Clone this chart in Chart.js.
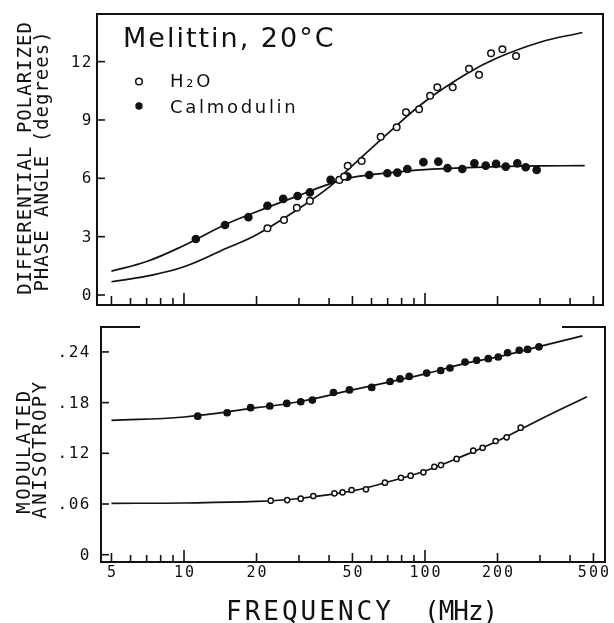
<!DOCTYPE html>
<html>
<head>
<meta charset="utf-8">
<script src="https://cdn.jsdelivr.net/npm/chart.js@4.4.0/dist/chart.umd.min.js"></script>
<style>
  html, body { margin: 0; padding: 0; background: #fff; }
  #wrap { position: relative; width: 614px; height: 623px; overflow: hidden; }
  canvas { position: absolute; left: 0; }
  #phase { top: 0; }
  #aniso { top: 320px; }
</style>
</head>
<body>
<div id="wrap">
  <canvas id="phase" width="614" height="320"></canvas>
  <canvas id="aniso" width="614" height="303"></canvas>
</div>
<script>
// ---- differential polarized phase angle (degrees) ----
var phaseH2oFreq = [22.2, 26.0, 29.4, 33.3, 44.1, 46.2, 47.8, 54.6, 65.5, 76.3, 83.4, 94.5, 105, 112.5, 130.3, 152.3, 167.6, 188, 209.5, 238.7];
var phaseH2o     = [3.43, 3.86, 4.49, 4.84, 5.92, 6.09, 6.65, 6.89, 8.14, 8.63, 9.40, 9.55, 10.25, 10.68, 10.68, 11.63, 11.32, 12.43, 12.64, 12.29];
var phaseCamFreq = [11.2, 14.8, 18.5, 22.2, 25.8, 29.6, 33.3, 40.6, 47.7, 58.7, 69.8, 76.8, 84.5, 98.5, 113.6, 124, 142.8, 160.3, 178.7, 197.2, 216.3, 241.7, 261.8, 290.7];
var phaseCam     = [2.88, 3.60, 4.00, 4.59, 4.94, 5.09, 5.28, 5.92, 6.09, 6.17, 6.26, 6.29, 6.48, 6.83, 6.86, 6.52, 6.48, 6.77, 6.65, 6.74, 6.60, 6.77, 6.57, 6.43];
// fitted curves
var phaseH2oFitFreq = [5, 7, 10, 15, 20, 30, 40, 50, 70, 100, 150, 200, 300, 450];
var phaseH2oFit     = [0.68, 0.97, 1.45, 2.4, 3.1, 4.45, 5.55, 6.65, 8.3, 9.95, 11.4, 12.2, 13.0, 13.5];
var phaseCamFitFreq = [5, 7, 10, 15, 20, 30, 40, 50, 70, 100, 150, 200, 300, 460];
var phaseCamFit     = [1.23, 1.72, 2.55, 3.65, 4.28, 5.12, 5.7, 6.05, 6.28, 6.45, 6.55, 6.6, 6.64, 6.65];

// ---- modulated anisotropy ----
var anisoH2oFreq = [22.9, 26.8, 30.5, 34.4, 42.1, 45.5, 49.6, 56.9, 68.2, 79.5, 87.2, 98.5, 109.3, 116.5, 135.3, 158.6, 173.4, 196.4, 218.2, 249.5];
var anisoH2o     = [0.0639, 0.0647, 0.0663, 0.0695, 0.0727, 0.0738, 0.0766, 0.0774, 0.0852, 0.0911, 0.0935, 0.0975, 0.1041, 0.1061, 0.1133, 0.1231, 0.1266, 0.1346, 0.1389, 0.1503];
var anisoCamFreq = [11.4, 15.1, 18.9, 22.7, 26.7, 30.5, 34.1, 41.7, 48.6, 60.1, 71.6, 78.8, 86.0, 101.6, 116.2, 127, 146.6, 163.8, 183.1, 201.4, 220.2, 246.1, 266.6, 297.1];
var anisoCam     = [0.164, 0.168, 0.174, 0.176, 0.179, 0.181, 0.183, 0.192, 0.195, 0.198, 0.205, 0.208, 0.211, 0.215, 0.218, 0.221, 0.228, 0.230, 0.232, 0.234, 0.239, 0.242, 0.243, 0.246];
var anisoH2oFitFreq = [5, 10, 20, 30, 50, 70, 100, 150, 200, 300, 470];
var anisoH2oFit     = [0.0608, 0.0612, 0.063, 0.0665, 0.0755, 0.086, 0.099, 0.119, 0.1345, 0.160, 0.187];
var anisoCamFitFreq = [5, 10, 20, 30, 50, 70, 100, 150, 200, 300, 450];
var anisoCamFit     = [0.159, 0.163, 0.174, 0.181, 0.195, 0.204, 0.214, 0.227, 0.234, 0.2465, 0.259];

// ---- axes ----
var freqTicks   = [5, 6, 7, 8, 9, 10, 20, 30, 40, 50, 60, 70, 80, 90, 100, 200, 300, 400, 500];
var freqLabels  = [5, 10, 20, 50, 100, 200, 500];
var decadeTicks = [10, 100];
var phaseTicks  = [0, 3, 6, 9, 12];
var phaseTickText = ['0', '3', '6', '9', '12'];
var anisoTicks  = [0, 0.06, 0.12, 0.18, 0.24];
var anisoTickText = ['0', '.06', '.12', '.18', '.24'];

var INK = '#111';
var MONO = '"DejaVu Sans Mono", monospace';
var SANS = '"DejaVu Sans", sans-serif';

function pts(xs, ys) {
  return xs.map(function (x, i) { return { x: x, y: ys[i] }; });
}
function fitSet(xs, ys) {
  return { data: pts(xs, ys), showLine: true, pointRadius: 0, borderColor: INK,
           borderWidth: 1.7, tension: 0.4, fill: false };
}
function markSet(xs, ys, filled, r) {
  return { data: pts(xs, ys), showLine: false, pointRadius: r, pointBorderWidth: 1.5,
           pointBackgroundColor: filled ? INK : '#fff', pointBorderColor: INK };
}

function txt(ctx, s, x, y, font, align, spacing, baseline) {
  ctx.save();
  ctx.font = font;
  ctx.letterSpacing = (spacing || 0) + 'px';
  ctx.textAlign = align || 'left';
  ctx.textBaseline = baseline || 'middle';
  ctx.fillStyle = INK;
  ctx.fillText(s, x, y);
  ctx.restore();
}
function vtxt(ctx, s, x, y, font, spacing) {
  ctx.save();
  ctx.translate(x, y);
  ctx.rotate(-Math.PI / 2);
  txt(ctx, s, 0, 0, font, 'center', spacing);
  ctx.restore();
}
function line(ctx, x1, y1, x2, y2) {
  ctx.beginPath(); ctx.moveTo(x1, y1); ctx.lineTo(x2, y2); ctx.stroke();
}

// inward ticks on the frequency axis and on the left axis
function drawTicks(chart, yVals, yText, labelRight) {
  var ctx = chart.ctx, a = chart.chartArea;
  var xs = chart.scales.x, ys = chart.scales.y;
  ctx.save();
  ctx.strokeStyle = INK; ctx.lineWidth = 1.6;
  freqTicks.forEach(function (f) {
    var x = xs.getPixelForValue(f);
    var len = decadeTicks.indexOf(f) >= 0 ? 12 : (freqLabels.indexOf(f) >= 0 ? 9 : 7);
    line(ctx, x, a.bottom, x, a.bottom - len);
  });
  yVals.forEach(function (v, i) {
    var y = ys.getPixelForValue(v);
    line(ctx, a.left, y, a.left + 8, y);
    txt(ctx, yText[i], labelRight, y + 1, '16px ' + MONO, 'right', 1.5);
  });
  ctx.restore();
}

var phaseDecor = {
  id: 'phaseDecor',
  afterDraw: function (chart) {
    var ctx = chart.ctx, a = chart.chartArea;
    ctx.save();
    ctx.strokeStyle = INK; ctx.lineWidth = 2;
    ctx.strokeRect(a.left, a.top, a.right - a.left, a.bottom - a.top);
    ctx.restore();
    drawTicks(chart, phaseTicks, phaseTickText, 93);

    vtxt(ctx, 'DIFFERENTIAL POLARIZED', 26, 158, '19px ' + MONO, 1);
    vtxt(ctx, 'PHASE ANGLE (degrees)', 43, 161, '19px ' + MONO, 1);

    txt(ctx, 'Melittin, 20°C', 123, 47, '27px ' + SANS, 'left', 2, 'alphabetic');
    ctx.save();
    ctx.strokeStyle = INK; ctx.fillStyle = INK; ctx.lineWidth = 1.5;
    ctx.beginPath(); ctx.arc(139, 81.5, 3.3, 0, Math.PI * 2); ctx.stroke();
    ctx.beginPath(); ctx.arc(139, 106, 3.7, 0, Math.PI * 2); ctx.fill();
    ctx.restore();
    txt(ctx, 'H₂O', 170, 87, '18px ' + SANS, 'left', 2.7, 'alphabetic');
    txt(ctx, 'Calmodulin', 170, 113, '18px ' + SANS, 'left', 2.7, 'alphabetic');
  }
};

var anisoDecor = {
  id: 'anisoDecor',
  afterDraw: function (chart) {
    var ctx = chart.ctx, a = chart.chartArea, xs = chart.scales.x;
    ctx.save();
    ctx.strokeStyle = INK; ctx.lineWidth = 2;
    ctx.beginPath();
    ctx.moveTo(a.left + 39, a.top); ctx.lineTo(a.left, a.top);
    ctx.lineTo(a.left, a.bottom); ctx.lineTo(a.right, a.bottom);
    ctx.lineTo(a.right, a.top); ctx.lineTo(a.right - 43, a.top);
    ctx.stroke();
    ctx.restore();
    drawTicks(chart, anisoTicks, anisoTickText, 91);

    freqLabels.forEach(function (f) {
      txt(ctx, String(f), xs.getPixelForValue(f) + 1, 257, '15px ' + MONO, 'center', 2, 'alphabetic');
    });
    txt(ctx, 'FREQUENCY', 226, 300, '26px ' + MONO, 'left', 3, 'alphabetic');
    txt(ctx, '(MHz)', 424, 300, '26px ' + MONO, 'left', -1, 'alphabetic');

    vtxt(ctx, 'MODULATED', 25, 131, '19px ' + MONO, 2.5);
    vtxt(ctx, 'ANISOTROPY', 41, 129, '19px ' + MONO, 2.5);
  }
};

function baseOptions(pad, xMin, xMax, yMin, yMax) {
  return {
    responsive: false,
    animation: false,
    events: [],
    layout: { padding: pad },
    plugins: { legend: { display: false }, tooltip: { enabled: false } },
    scales: {
      x: { type: 'logarithmic', display: false, min: xMin, max: xMax },
      y: { type: 'linear', display: false, min: yMin, max: yMax }
    }
  };
}

new Chart(document.getElementById('phase'), {
  type: 'scatter',
  data: {
    datasets: [
      markSet(phaseH2oFreq, phaseH2o, false, 3.3),
      markSet(phaseCamFreq, phaseCam, true, 3.6),
      fitSet(phaseH2oFitFreq, phaseH2oFit),
      fitSet(phaseCamFitFreq, phaseCamFit)
    ]
  },
  options: baseOptions({ left: 97, right: 11, top: 14, bottom: 15 }, 4.356, 547.8, -0.514, 14.45),
  plugins: [phaseDecor]
});

new Chart(document.getElementById('aniso'), {
  type: 'scatter',
  data: {
    datasets: [
      markSet(anisoH2oFreq, anisoH2o, false, 2.6),
      markSet(anisoCamFreq, anisoCam, true, 3.1),
      fitSet(anisoH2oFitFreq, anisoH2oFit),
      fitSet(anisoCamFitFreq, anisoCamFit)
    ]
  },
  options: baseOptions({ left: 101, right: 9, top: 7, bottom: 61 }, 4.524, 558.5, -0.00864, 0.2695),
  plugins: [anisoDecor]
});
</script>
</body>
</html>
